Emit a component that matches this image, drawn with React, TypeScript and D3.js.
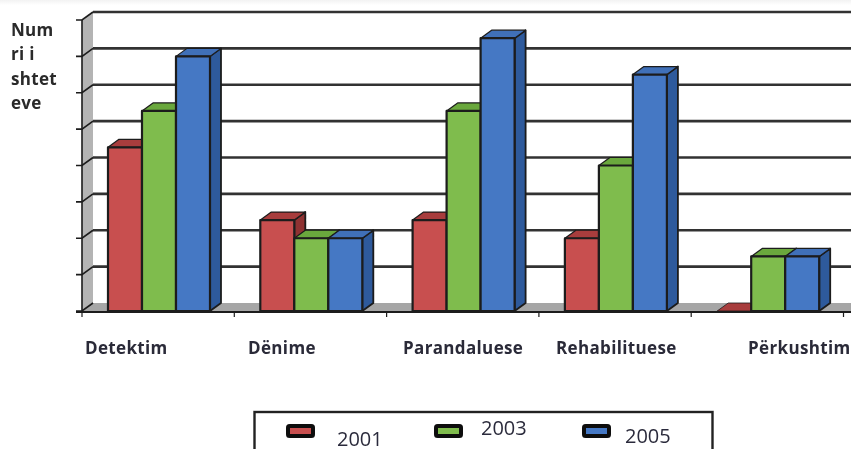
import React from "react";
import * as d3 from "d3";

const categories = ["Detektim", "Dënime", "Parandaluese", "Rehabilituese", "Përkushtim"];
const years = ["2001", "2003", "2005"];
const values2001 = [4.5, 2.5, 2.5, 2, 0];
const values2003 = [5.5, 2, 5.5, 4, 1.5];
const values2005 = [7, 2, 7.5, 6.5, 1.5];
const yTicks = [0, 1, 2, 3, 4, 5, 6, 7, 8];
const titleLines = ["Num", "ri i", "shtet", "eve"];
const seriesValues = [values2001, values2003, values2005];
const fronts = ["#c8504f", "#7fbc4e", "#4478c4"];
const tops = ["#a83c3c", "#6aa83c", "#3f6fb8"];
const sides = ["#8f3232", "#5c9436", "#2f5a9c"];

const W = 851, H = 449;
const DX = 11, DY = -8;
const x0 = d3.scaleBand<string>().domain(categories).range([82, 843.5]);
const xs = d3.scaleBand<string>().domain(years).range([26, 128]);
const y = d3.scaleLinear().domain([0, 8]).range([311, 20]);
const labelX = [85, 248, 403, 556, 748];
const legendSwatchX = [288, 436, 584];
const legendTextX = [337, 481, 625];
const legendTextY = [446, 435, 443];

function poly(p: [number, number][]) {
  return d3.line()(p) + "Z";
}

export default function App() {
  const ink = "#1c1c1c";
  const floorY = y(0);
  return (
    <svg width={W} height={H} style={{ position: "fixed", left: 0, top: 0, background: "#fff" }} fontFamily="'Open Sans', sans-serif">
      <defs>
        <filter id="soft" x="-2%" y="-2%" width="104%" height="104%">
          <feGaussianBlur stdDeviation="0.7" />
        </filter>
        <linearGradient id="topfade" x1="0" y1="0" x2="0" y2="1">
          <stop offset="0" stopColor="#e6e6e6" />
          <stop offset="1" stopColor="#ffffff" />
        </linearGradient>
      </defs>
      <g filter="url(#soft)">
        <rect x={-5} y={-5} width={W + 10} height={10} fill="url(#topfade)" />
        {/* side wall */}
        <path d={poly([[82, y(8)], [82 + DX, y(8) + DY], [82 + DX, floorY + DY], [82, floorY]])} fill="#b4b4b4" />
        {/* floor */}
        <path d={poly([[82, floorY], [82 + DX, floorY + DY], [W + 5, floorY + DY], [W + 5, floorY]])} fill="#a6a6a6" />
        {/* gridlines */}
        {yTicks.map((t) => (
          <g key={t} stroke={ink} fill="none">
            {t > 0 && <line x1={82 + DX} x2={W + 5} y1={y(t) + DY} y2={y(t) + DY} strokeWidth={2.6} stroke="#333" />}
            <polyline points={`76,${y(t)} 82,${y(t)} ${82 + DX},${y(t) + DY}`} strokeWidth={1.6} />
          </g>
        ))}
        <line x1={82} x2={82} y1={y(8)} y2={floorY} stroke={ink} strokeWidth={1.6} />
        <line x1={76} x2={W + 5} y1={floorY + 1} y2={floorY + 1} stroke={ink} strokeWidth={1.8} />
        {[...categories, ""].map((c, i) => {
          const tx = 82 + i * x0.bandwidth();
          return <line key={i} x1={tx} x2={tx} y1={floorY} y2={floorY + 6} stroke={ink} strokeWidth={1.2} />;
        })}
        {/* bars */}
        {categories.map((c, i) =>
          years.map((yr, s) => ({ yr, s, v: seriesValues[s][i] })).map(({ yr, s, v }) => {
            const left = (x0(c) as number) + (xs(yr) as number);
            const right = left + xs.bandwidth();
            const top = y(v);
            return (
              <g key={c + yr} stroke={ink} strokeWidth={1.8} strokeLinejoin="round">
                <path d={poly([[right, top], [right + DX, top + DY], [right + DX, floorY + DY], [right, floorY]])} fill={sides[s]} />
                <path d={poly([[left, top], [left + DX, top + DY], [right + DX, top + DY], [right, top]])} fill={tops[s]} strokeWidth={v === 0 ? 0.8 : 1.2} />
                {v > 0 && <rect x={left} y={top} width={xs.bandwidth()} height={floorY - top} fill={fronts[s]} strokeWidth={2.2} />}
              </g>
            );
          })
        )}
        {/* y title */}
        {titleLines.map((t, i) => (
          <text key={t} x={11} y={36 + i * 24.3} fontSize={17} letterSpacing={0.3} fontWeight={700} fill="#2a2a2a">{t}</text>
        ))}
        {/* category labels */}
        {categories.map((c, i) => (
          <text key={c} x={labelX[i]} y={354} fontSize={17} letterSpacing={0.35} fontWeight={700} fill="#2a2a38">{c}</text>
        ))}
        {/* legend */}
        <rect x={254.5} y={412} width={458} height={60} fill="#fff" stroke="#222" strokeWidth={2.4} />
        {years.map((yr, i) => (
          <g key={yr}>
            <rect x={legendSwatchX[i]} y={426} width={25} height={10} rx={1.5} fill={fronts[i]} stroke="#111" strokeWidth={4} />
            <text x={legendTextX[i]} y={legendTextY[i]} fontSize={20} fill="#2c2c3c">{yr}</text>
          </g>
        ))}
      </g>
    </svg>
  );
}
